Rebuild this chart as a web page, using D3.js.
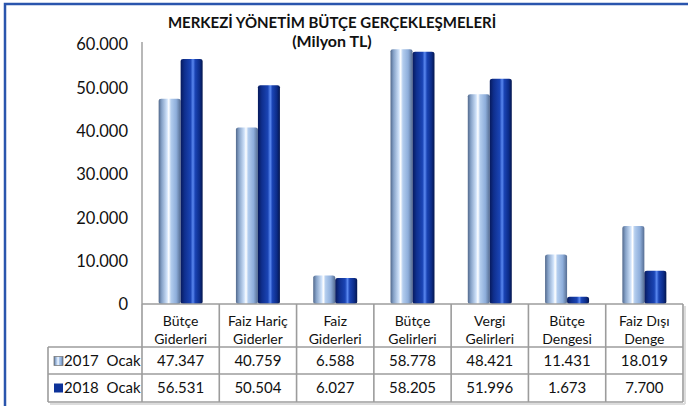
<!DOCTYPE html>
<html>
<head>
<meta charset="utf-8">
<script src="https://cdn.jsdelivr.net/npm/d3@7"></script>
<style>
  body { margin: 0; background: #fff; }
  text { font-family: Lato, "Open Sans", sans-serif; fill: #111; }
</style>
</head>
<body>
<div id="chart"></div>
<script>
// ================================ data
var categories = [
  ["Bütçe", "Giderleri"],
  ["Faiz Hariç", "Giderler"],
  ["Faiz", "Giderleri"],
  ["Bütçe", "Gelirleri"],
  ["Vergi", "Gelirleri"],
  ["Bütçe", "Dengesi"],
  ["Faiz Dışı", "Denge"]
];
var seriesNames = ["2017  Ocak", "2018  Ocak"];
var values2017 = [47347, 40759, 6588, 58778, 48421, 11431, 18019];
var values2018 = [56531, 50504, 6027, 58205, 51996, 1673, 7700];
var yTicks = [0, 10000, 20000, 30000, 40000, 50000, 60000];

var titleLines = ["MERKEZİ YÖNETİM BÜTÇE GERÇEKLEŞMELERİ", "(Milyon TL)"];

// ================================ dimensions
var svgWidth = 688;
var svgHeight = 406;

var plot = { left: 142, right: 683, top: 44, bottom: 304 };
var table = { left: 48, headerBottom: 347, row1Bottom: 374, row2Bottom: 402 };

var tr = d3.formatLocale({ decimal: ",", thousands: ".", grouping: [3], currency: ["", " TL"] });
var fmt = tr.format(",d");

var seriesData = [values2017, values2018];
var catKeys = categories.map(function (c) { return c.join(" "); });

var svg = d3.select("#chart")
  .append("svg")
  .attr("width", svgWidth)
  .attr("height", svgHeight);

// gradients for the cylinder look
var defs = svg.append("defs");
var gradStops = [
  [["0%", "#52698c"], ["14%", "#86a2c8"], ["38%", "#cfe2fa"], ["46%", "#ffffff"], ["56%", "#b3cdee"], ["80%", "#8eaedb"], ["100%", "#566d92"]],
  [["0%", "#071a5c"], ["18%", "#0f2f8e"], ["45%", "#1a44b4"], ["56%", "#5a88f0"], ["66%", "#1a44b4"], ["86%", "#0c2c88"], ["100%", "#04164e"]]
];
gradStops.forEach(function (stops, i) {
  var g = defs.append("linearGradient")
    .attr("id", "grad" + i)
    .attr("x1", "0%").attr("x2", "100%").attr("y1", "0%").attr("y2", "0%");
  stops.forEach(function (s) {
    g.append("stop").attr("offset", s[0]).attr("stop-color", s[1]);
  });
});

// blue frame around the chart
svg.append("rect")
  .attr("x", 5)
  .attr("y", 4)
  .attr("width", 720)
  .attr("height", 440)
  .style("fill", "none")
  .style("stroke", "#2a55ad")
  .style("stroke-width", 2.5);

// title
svg.selectAll(".title")
  .data(titleLines)
  .enter()
  .append("text")
  .attr("class", "title")
  .attr("x", 332)
  .attr("y", function (d, i) { return 28 + i * 19; })
  .style("text-anchor", "middle")
  .style("font-weight", "bold")
  .style("font-size", function (d, i) { return i === 0 ? "15px" : "16px"; })
  .text(function (d) { return d; });

// scales
var xBandScale = d3.scaleBand()
  .domain(catKeys)
  .range([plot.left, plot.right])
  .padding(0);

var xSub = d3.scaleBand()
  .domain([0, 1])
  .range([0, xBandScale.bandwidth()])
  .paddingInner(0)
  .paddingOuter(0.757);

var yLinearScale = d3.scaleLinear()
  .domain([0, 60000])
  .range([plot.bottom, plot.top]);

// y axis
var leftAxis = d3.axisLeft(yLinearScale)
  .tickValues(yTicks)
  .tickSize(0)
  .tickPadding(14)
  .tickFormat(fmt);

var yAxisG = svg.append("g")
  .attr("transform", "translate(" + plot.left + ",0)")
  .call(leftAxis);
yAxisG.select(".domain").remove();
yAxisG.selectAll("text")
  .style("font-family", "Lato, 'Open Sans', sans-serif")
  .style("font-size", "16.5px")
  .attr("dy", "0.36em")
  .style("fill", "#111");

svg.append("line")
  .attr("x1", plot.left).attr("x2", plot.left)
  .attr("y1", plot.top - 2).attr("y2", plot.bottom)
  .style("stroke", "#a0a0a0")
  .style("stroke-width", 1.5);

// bars
var barGroups = svg.selectAll(".cat")
  .data(catKeys)
  .enter()
  .append("g")
  .attr("class", "cat")
  .attr("transform", function (d) { return "translate(" + xBandScale(d) + ",0)"; });

[0, 1].forEach(function (s) {
  barGroups.append("rect")
    .attr("x", xSub(s))
    .attr("y", function (d, i) { return yLinearScale(seriesData[s][i]); })
    .attr("width", xSub.bandwidth())
    .attr("height", function (d, i) { return plot.bottom - yLinearScale(seriesData[s][i]); })
    .attr("rx", 2.5)
    .attr("ry", 2)
    .attr("fill", "url(#grad" + s + ")");
});

// ================================ data table
var gridColor = "#9c9c9c";
var grid = svg.append("g").style("stroke", gridColor).style("stroke-width", 1.6);

// shadow
var shadow = svg.insert("g", "g.cat").style("stroke", "#dcdcdc").style("stroke-width", 2);
shadow.append("line").attr("x1", table.left + 2).attr("x2", plot.right + 2)
  .attr("y1", table.row2Bottom + 2).attr("y2", table.row2Bottom + 2);
shadow.append("line").attr("x1", plot.right + 2).attr("x2", plot.right + 2)
  .attr("y1", plot.bottom + 2).attr("y2", table.row2Bottom + 2);

// x axis line / header top
grid.append("line")
  .attr("x1", plot.left).attr("x2", plot.right)
  .attr("y1", plot.bottom).attr("y2", plot.bottom);

// vertical dividers
var bounds = catKeys.map(function (d) { return xBandScale(d); }).concat([plot.right]);
grid.selectAll(".vdiv")
  .data(bounds)
  .enter()
  .append("line")
  .attr("x1", function (d) { return d; })
  .attr("x2", function (d) { return d; })
  .attr("y1", plot.bottom)
  .attr("y2", table.row2Bottom);

// horizontal lines
[table.headerBottom, table.row1Bottom, table.row2Bottom].forEach(function (y) {
  grid.append("line")
    .attr("x1", table.left).attr("x2", plot.right)
    .attr("y1", y).attr("y2", y);
});
grid.append("line")
  .attr("x1", table.left).attr("x2", table.left)
  .attr("y1", table.headerBottom).attr("y2", table.row2Bottom);

// category labels
barGroups.each(function (d, i) {
  var g = d3.select(this);
  categories[i].forEach(function (line, j) {
    g.append("text")
      .attr("x", xBandScale.bandwidth() / 2)
      .attr("y", 321 + j * 18)
      .attr("dy", "0.36em")
      .style("text-anchor", "middle")
      .style("font-size", "14px")
      .text(line);
  });
});

// value rows
var rowCenters = [361, 388];
[0, 1].forEach(function (s) {
  barGroups.append("text")
    .attr("x", xBandScale.bandwidth() / 2)
    .attr("y", rowCenters[s])
    .attr("dy", "0.36em")
    .style("text-anchor", "middle")
    .style("font-size", "15px")
    .text(function (d, i) { return fmt(seriesData[s][i]); });

  // legend key
  svg.append("rect")
    .attr("x", 54)
    .attr("y", rowCenters[s] - 4.5)
    .attr("width", 9)
    .attr("height", 9)
    .attr("fill", s === 0 ? "url(#grad0)" : "#0d3299")
    .style("stroke", s === 0 ? "#7a7a7a" : "none")
    .style("stroke-width", 0.8);

  svg.append("text")
    .attr("x", 64)
    .attr("y", rowCenters[s])
    .attr("dy", "0.36em")
    .style("font-size", "15px")
    .style("white-space", "pre")
    .text(seriesNames[s]);
});
</script>
</body>
</html>
